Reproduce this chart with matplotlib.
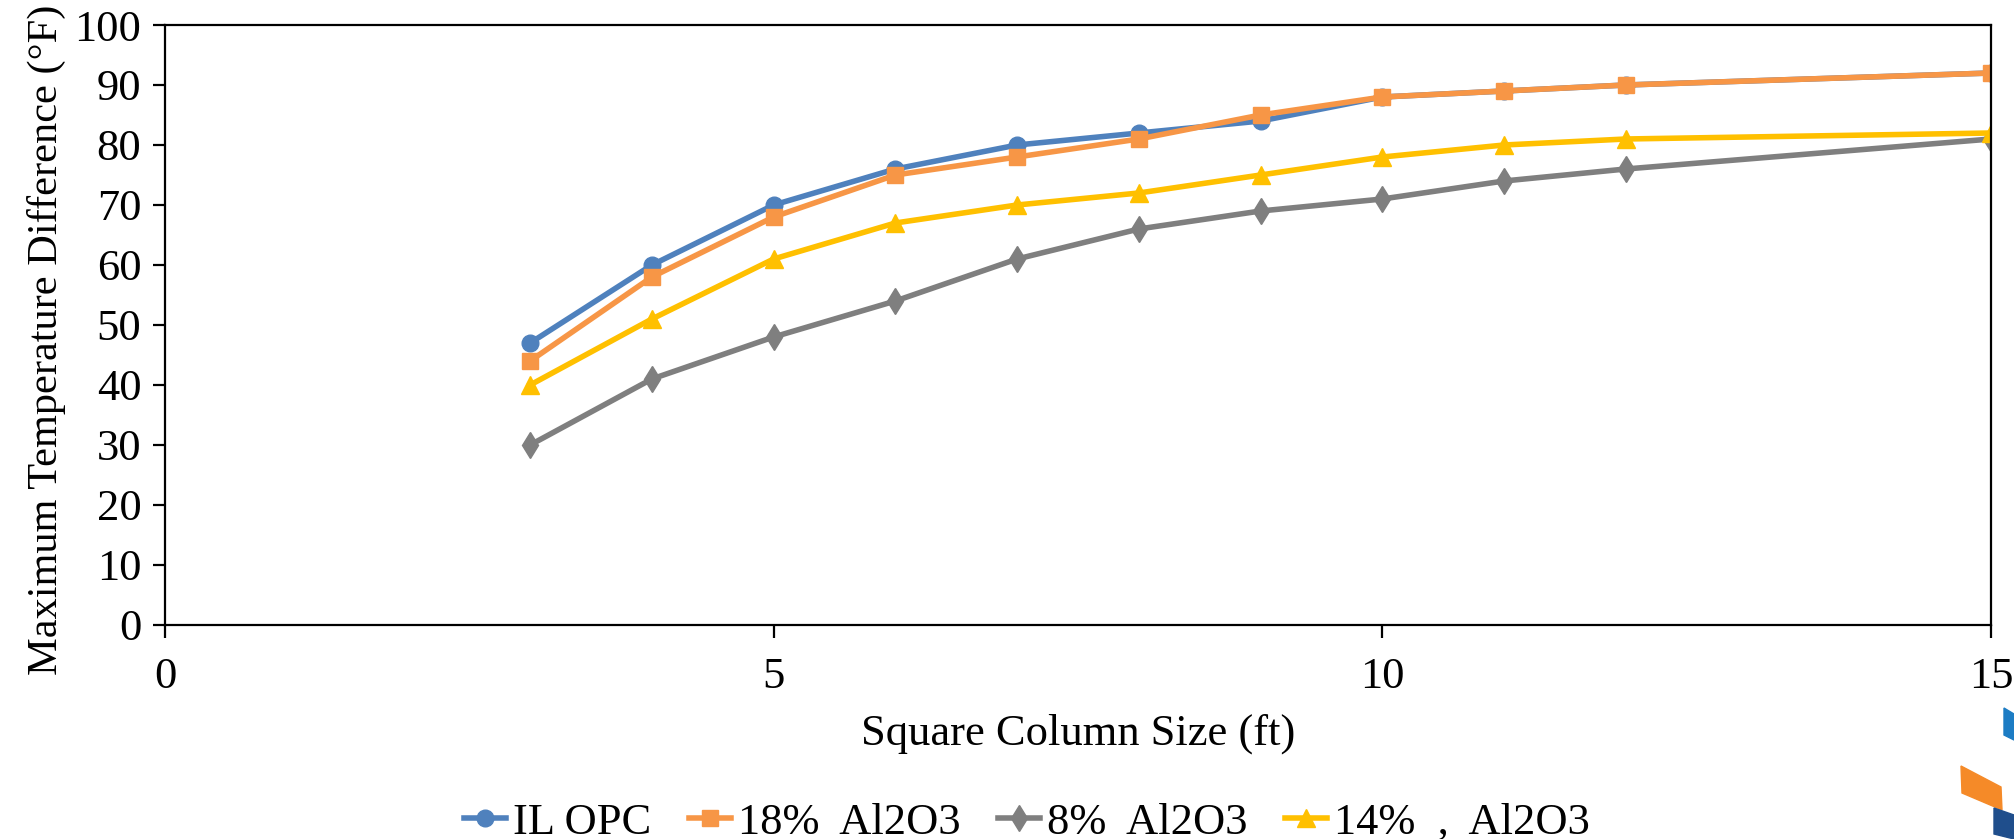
import matplotlib
matplotlib.use('Agg')
import matplotlib.pyplot as plt
from matplotlib.patches import Polygon

plt.rcParams.update({'font.size': 32})
plt.rcParams.update({'font.family': 'serif'})
plt.rcParams.update({'font.serif': ['Liberation Serif', 'DejaVu Serif']})

# column size (ft)
sizes = [3, 4, 5, 6, 7, 8, 9, 10, 11, 12, 15]

il_opc = [47, 60, 70, 76, 80, 82, 84, 88, 89, 90, 92]
al2o3_18 = [44, 58, 68, 75, 78, 81, 85, 88, 89, 90, 92]
al2o3_8 = [30, 41, 48, 54, 61, 66, 69, 71, 74, 76, 81]
al2o3_14 = [40, 51, 61, 67, 70, 72, 75, 78, 80, 81, 82]

labels = ['IL OPC', '18%  Al2O3', '8%  Al2O3', '14%  ,  Al2O3']

x_ticks = [0, 5, 10, 15]
y_ticks = [0, 10, 20, 30, 40, 50, 60, 70, 80, 90, 100]

fig = plt.figure(figsize=(20.14, 8.39), dpi=100)
ax = fig.add_axes([0.0819, 0.2551, 0.9067, 0.7151])

lw = 4
ax.plot(sizes, il_opc, color='#4F81BD', lw=lw, marker='o', markersize=12, label=labels[0])
ax.plot(sizes, al2o3_18, color='#F79646', lw=lw, marker='s', markersize=12, label=labels[1])
ax.plot(sizes, al2o3_8, color='#7F7F7F', lw=lw, marker='d', markersize=13, label=labels[2])
ax.plot(sizes, al2o3_14, color='#FFC000', lw=lw, marker='^', markersize=13, label=labels[3])

ax.set_xlim(0, 15)
ax.set_ylim(0, 100)
ax.set_xticks(x_ticks)
ax.set_yticks(y_ticks)
for s in ax.spines.values():
    s.set_linewidth(1.6)
ax.tick_params(direction='out', length=9, width=1.6, pad=8)
ax.tick_params(axis='x', pad=14)

ax.set_xlabel('Square Column Size (ft)', labelpad=12)
fig.text(0.023, 0.595, 'Maximum Temperature Difference (°F)', rotation='vertical',
         va='center', ha='center', fontsize=30.5)

ax.legend(loc='center', bbox_to_anchor=(0.472, -0.33), ncol=4, frameon=False,
          handlelength=0.95, handletextpad=0.15, columnspacing=0.85)

# small logo fragments in the lower right corner
W, H = 2014.0, 839.0
def frag(pts, color):
    fig.patches.append(Polygon([(x / W, 1 - y / H) for x, y in pts], closed=True,
                               transform=fig.transFigure, color=color, zorder=5))
frag([(2004, 708), (2014, 714), (2014, 740), (2004, 735)], '#1C7CC4')
frag([(1961, 766), (2001, 787), (2002, 810), (1962, 793)], '#F58A28')
frag([(1994, 808), (2014, 815), (2014, 839), (1994, 834)], '#1F4E8C')

plt.savefig('out.png', dpi=100)
